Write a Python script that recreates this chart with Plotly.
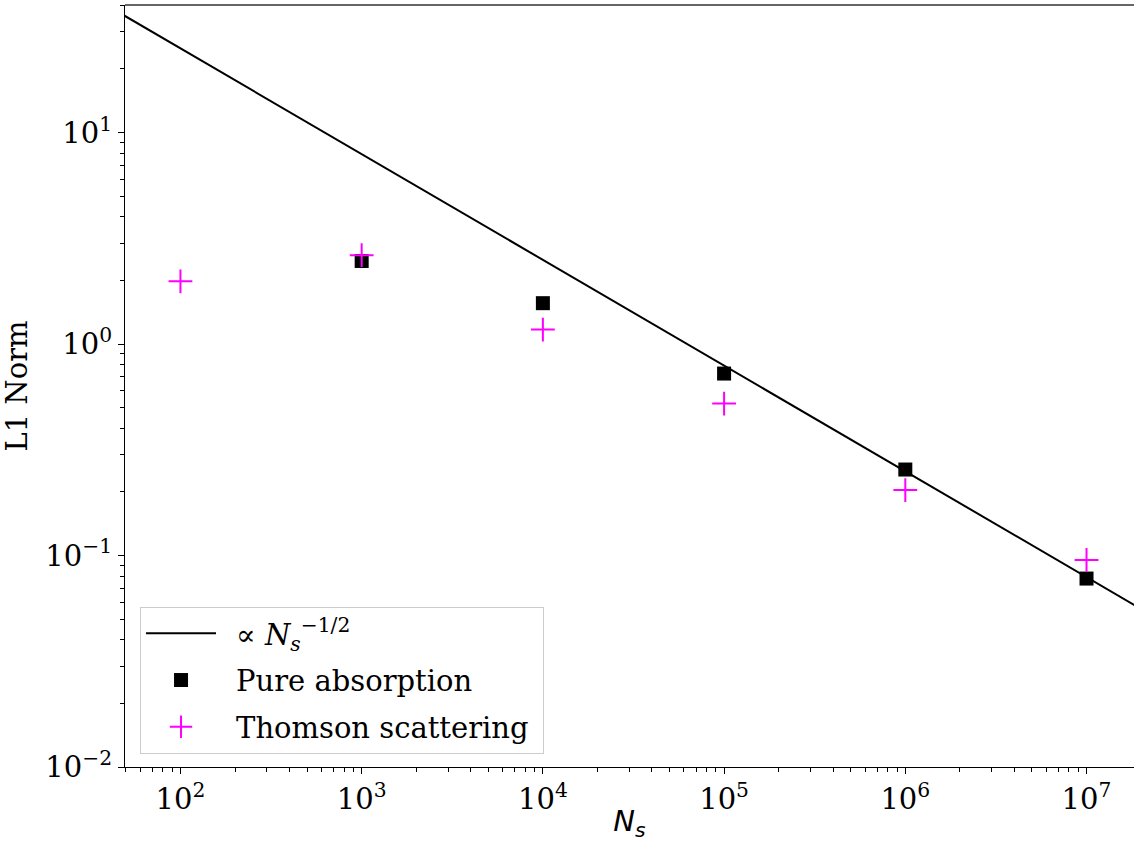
import numpy as np
import plotly.graph_objects as go

# Sample counts and L1 norms for the two test problems
absorption_n = [1e3, 1e4, 1e5, 1e6, 1e7]
absorption_l1 = [2.47, 1.56, 0.725, 0.255, 0.0778]
thomson_n = [1e2, 1e3, 1e4, 1e5, 1e6, 1e7]
thomson_l1 = [1.98, 2.63, 1.17, 0.523, 0.204, 0.0953]

# Reference scaling line: L1 = C * N^(-1/2)
scaling_coeff = 250.0
scaling_n = [30.0, 3e7]
scaling_l1 = [scaling_coeff * n ** -0.5 for n in scaling_n]

x_ticks = [1e2, 1e3, 1e4, 1e5, 1e6, 1e7]
x_ticktext = ["10<sup>2</sup>", "10<sup>3</sup>", "10<sup>4</sup>",
              "10<sup>5</sup>", "10<sup>6</sup>", "10<sup>7</sup>"]
y_ticks = [1e-2, 1e-1, 1e0, 1e1]
y_ticktext = ["10<sup>\u22122</sup>", "10<sup>\u22121</sup>",
              "10<sup>0</sup>", "10<sup>1</sup>"]

x_minor = [k * 10.0 ** e for e in range(1, 8) for k in range(2, 10)]
y_minor = [k * 10.0 ** e for e in range(-3, 2) for k in range(2, 10)]

SERIF = "DejaVu Serif"
MATH = "DejaVu Sans"
PAD = "\u00a0\u2009"

fig = go.Figure()
fig.add_trace(go.Scatter(
    x=scaling_n, y=scaling_l1, mode="lines",
    line=dict(color="black", width=2),
    name=PAD + "\u221d <i>N</i><sub><i>s</i></sub><sup>\u22121/2</sup>",
    legendgroup="a",
))
fig.add_trace(go.Scatter(
    x=absorption_n, y=absorption_l1, mode="markers",
    marker=dict(symbol="square", size=14, color="black"),
    name=PAD + "Pure absorption", legendgroup="b",
))
fig.add_trace(go.Scatter(
    x=thomson_n, y=thomson_l1, mode="markers",
    marker=dict(symbol="cross-thin", size=17,
                line=dict(color="#ff00ff", width=2)),
    name=PAD + "Thomson scattering\u00a0", legendgroup="c",
))

axis_common = dict(
    showgrid=False, zeroline=False, showline=True, linecolor="black",
    linewidth=1.2, ticks="outside", ticklen=6, tickwidth=1.2,
    tickcolor="black", tickfont=dict(family=SERIF, size=29, color="black"),
)

fig.update_xaxes(
    type="log", range=[1.694, 7.262],
    tickmode="array", tickvals=x_ticks, ticktext=x_ticktext,
    minor=dict(tickmode="array", tickvals=x_minor, ticks="outside",
               ticklen=3.5, tickwidth=1, tickcolor="black", showgrid=False),
    title=dict(text="<i>N<sub>s</sub></i>",
               font=dict(family=MATH, size=29, color="black"), standoff=3),
    **axis_common,
)
fig.update_yaxes(
    type="log", range=[-2, 1.603],
    tickmode="array", tickvals=y_ticks, ticktext=y_ticktext,
    minor=dict(tickmode="array", tickvals=y_minor, ticks="outside",
               ticklen=3.5, tickwidth=1, tickcolor="black", showgrid=False),
    title=dict(text="L1 Norm",
               font=dict(family=SERIF, size=29, color="black"), standoff=13),
    **axis_common,
)

# Top frame edge
fig.add_shape(type="line", xref="paper", yref="paper",
              x0=0, x1=1, y0=1, y1=1, line=dict(color="#666666", width=2))

fig.update_layout(
    width=1134, height=842,
    margin=dict(l=125, r=0, t=5, b=75),
    paper_bgcolor="white", plot_bgcolor="white",
    showlegend=True,
    legend=dict(
        x=0.0149, y=0.21, xanchor="left", yanchor="top",
        bgcolor="rgba(255,255,255,0.8)", bordercolor="#cccccc", borderwidth=1,
        font=dict(family=SERIF, size=29, color="black"),
        itemwidth=70, tracegroupgap=6,
    ),
)

fig.write_html("out.html")
